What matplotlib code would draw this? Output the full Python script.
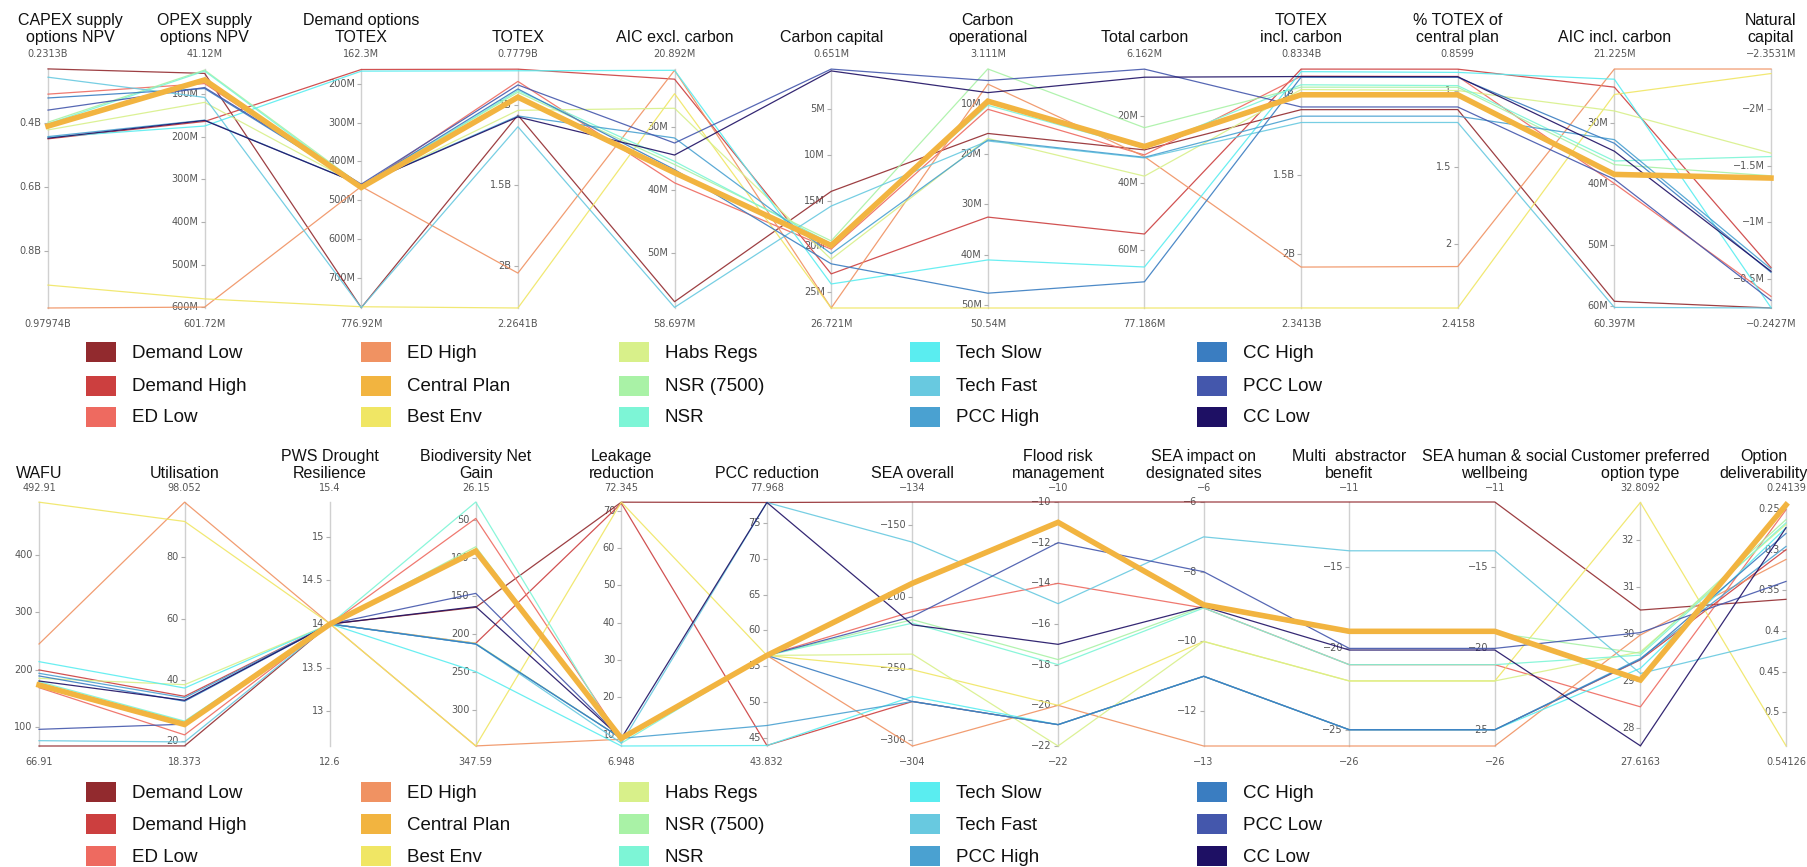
import matplotlib.pyplot as plt
from matplotlib.patches import Rectangle

plt.rcParams['font.family'] = ['Liberation Sans', 'DejaVu Sans']

W, H = 1808, 867

names = ['Demand Low', 'Demand High', 'ED Low', 'ED High', 'Central Plan', 'Best Env',
         'Habs Regs', 'NSR (7500)', 'NSR', 'Tech Slow', 'Tech Fast', 'PCC High',
         'CC High', 'PCC Low', 'CC Low']
colors = ['#922A2E', '#CC3F3F', '#EE6A60', '#F09262', '#F2B440', '#F0E664',
          '#D8F08A', '#A9F2A6', '#7DF5D6', '#5AEDF0', '#68C9E0', '#4AA1D1',
          '#3A7DC1', '#4457AC', '#1E1064']

# ---- top chart: cost / carbon metrics ----
top_titles = ['CAPEX supply\noptions NPV', 'OPEX supply\noptions NPV', 'Demand options\nTOTEX',
              'TOTEX', 'AIC excl. carbon', 'Carbon capital', 'Carbon\noperational',
              'Total carbon', 'TOTEX\nincl. carbon', '% TOTEX of\ncentral plan',
              'AIC incl. carbon', 'Natural\ncapital']
top_hi = [0.2313, 41.12, 162.3, 0.7779, 20.892, 0.651, 3.111, 6.162, 0.8334, 0.8599, 21.225, -2.3531]
top_lo = [0.97974, 601.72, 776.92, 2.2641, 58.697, 26.721, 50.54, 77.186, 2.3413, 2.4158, 60.397, -0.2427]
top_hi_lbl = ['0.2313B', '41.12M', '162.3M', '0.7779B', '20.892M', '0.651M', '3.111M',
              '6.162M', '0.8334B', '0.8599', '21.225M', '\u22122.3531M']
top_lo_lbl = ['0.97974B', '601.72M', '776.92M', '2.2641B', '58.697M', '26.721M', '50.54M',
              '77.186M', '2.3413B', '2.4158', '60.397M', '\u22120.2427M']
top_ticks = [[0.4, 0.6, 0.8], [100, 200, 300, 400, 500, 600], [200, 300, 400, 500, 600, 700],
             [1, 1.5, 2], [30, 40, 50], [5, 10, 15, 20, 25], [10, 20, 30, 40, 50],
             [20, 40, 60], [1, 1.5, 2], [1, 1.5, 2], [30, 40, 50, 60], [-2, -1.5, -1, -0.5]]
top_suffix = ['B', 'M', 'M', 'B', 'M', 'M', 'M', 'M', 'B', '', 'M', 'M']

top_demand_low = [0.231, 51.4, 776.0, 1.065, 57.7, 14.0, 15.9, 30.2, 1.09, 1.124, 59.3, -0.243]
top_demand_high = [0.450, 164.1, 163.6, 0.779, 22.5, 23.0, 32.5, 55.2, 0.834, 0.861, 24.2, -0.60]
top_ed_low = [0.310, 75.3, 464.4, 0.855, 38.9, 20.3, 11.1, 31.7, 0.879, 0.908, 40.0, -0.345]
top_ed_high = [0.9797, 599.6, 464.4, 2.047, 21.1, 26.72, 6.1, 32.2, 2.083, 2.146, 21.23, -2.353]
top_central = [0.410, 66.8, 467.0, 0.953, 37.3, 19.9, 9.5, 29.2, 0.996, 1.028, 38.5, -1.39]
top_best_env = [0.908, 580.3, 773.7, 2.264, 24.8, 26.72, 50.54, 77.19, 2.341, 2.416, 25.4, -2.313]
top_habs = [0.422, 119.3, 464.4, 1.035, 27.1, 21.4, 16.9, 38.0, 0.963, 1.0, 28.1, -1.61]
top_nsr7500 = [0.398, 43.6, 462.0, 0.922, 36.0, 19.4, 3.1, 23.6, 0.948, 0.979, 36.9, -1.41]
top_nsr = [0.403, 45.9, 466.0, 0.912, 35.5, 19.7, 10.3, 29.7, 0.933, 0.968, 36.3, -1.58]
top_tech_slow = [0.445, 174.9, 167.8, 0.789, 21.1, 24.1, 41.0, 65.0, 0.85, 0.882, 22.9, -0.246]
top_tech_fast = [0.257, 107.7, 776.0, 1.137, 58.6, 15.6, 17.4, 32.6, 1.171, 1.208, 60.3, -0.243]
top_pcc_high = [0.443, 161.0, 460.0, 1.07, 31.8, 20.8, 17.2, 32.4, 1.131, 1.167, 32.8, -0.588]
top_cc_high = [0.322, 86.9, 461.9, 0.902, 36.8, 21.9, 47.6, 69.4, 0.885, 0.914, 33.4, -0.558]
top_pcc_low = [0.360, 84.6, 458.5, 0.877, 32.6, 0.66, 5.4, 6.2, 1.073, 1.107, 39.3, -0.31]
top_cc_low = [0.448, 161.8, 460.0, 1.076, 34.5, 0.86, 7.8, 8.6, 0.881, 0.91, 34.7, -0.567]

top_series = [top_demand_low, top_demand_high, top_ed_low, top_ed_high, top_central,
              top_best_env, top_habs, top_nsr7500, top_nsr, top_tech_slow, top_tech_fast,
              top_pcc_high, top_cc_high, top_pcc_low, top_cc_low]

# ---- bottom chart: environmental / resilience metrics ----
bot_titles = ['WAFU', 'Utilisation', 'PWS Drought\nResilience', 'Biodiversity Net\nGain',
              'Leakage\nreduction', 'PCC reduction', 'SEA overall', 'Flood risk\nmanagement',
              'SEA impact on\ndesignated sites', 'Multi  abstractor\nbenefit',
              'SEA human & social\nwellbeing', 'Customer preferred\noption type',
              'Option\ndeliverability']
bot_hi = [492.91, 98.052, 15.4, 26.15, 72.345, 77.968, -134, -10, -6, -11, -11, 32.8092, 0.24139]
bot_lo = [66.91, 18.373, 12.6, 347.59, 6.948, 43.832, -304, -22, -13, -26, -26, 27.6163, 0.54126]
bot_hi_lbl = ['492.91', '98.052', '15.4', '26.15', '72.345', '77.968', '\u2212134', '\u221210',
              '\u22126', '\u221211', '\u221211', '32.8092', '0.24139']
bot_lo_lbl = ['66.91', '18.373', '12.6', '347.59', '6.948', '43.832', '\u2212304', '\u221222',
              '\u221213', '\u221226', '\u221226', '27.6163', '0.54126']
bot_ticks = [[100, 200, 300, 400], [20, 40, 60, 80], [13, 13.5, 14, 14.5, 15],
             [50, 100, 150, 200, 250, 300], [10, 20, 30, 40, 50, 60, 70],
             [45, 50, 55, 60, 65, 70, 75], [-150, -200, -250, -300],
             [-10, -12, -14, -16, -18, -20, -22], [-6, -8, -10, -12], [-15, -20, -25],
             [-15, -20, -25], [28, 29, 30, 31, 32], [0.25, 0.3, 0.35, 0.4, 0.45, 0.5]]
bot_suffix = [''] * 13

bot_demand_low = [66.9, 18.4, 14, 164.9, 72.3, 77.9, -134, -10, -6, -11, -11, 30.51, 0.361]
bot_demand_high = [199.7, 34.6, 14, 212.3, 72.0, 43.9, -273, -20.95, -11.0, -25.0, -25.0, 29.45, 0.300]
bot_ed_low = [168.8, 22.0, 14, 47.8, 9.0, 56.5, -210.3, -14.0, -9.04, -21.0, -21.0, 28.45, 0.251]
bot_ed_high = [245.0, 98.0, 14, 347.5, 8.75, 56.5, -304, -20.0, -13.0, -26.0, -26.0, 29.98, 0.312]
bot_central = [173.4, 25.4, 14, 90.8, 9.0, 56.5, -190.6, -11.0, -8.95, -18.95, -18.95, 29.02, 0.245]
bot_best_env = [492.6, 91.7, 14, 347.5, 72.3, 56.5, -250.9, -20.0, -10.0, -22.0, -22.0, 32.8, 0.541]
bot_habs = [185.1, 38.4, 14, 212.3, 9.0, 56.5, -240.0, -22.0, -10.0, -22.0, -22.0, 29.62, 0.269]
bot_nsr7500 = [176.4, 26.2, 14, 85.1, 8.6, 56.5, -216.0, -17.75, -9.0, -19.05, -19.05, 29.59, 0.263]
bot_nsr = [179.3, 26.5, 14, 26.2, 7.7, 56.5, -218.4, -18.0, -9.04, -21.0, -21.0, 29.55, 0.267]
bot_tech_slow = [214.2, 37.3, 14, 249.6, 6.95, 43.9, -269.5, -20.95, -11.0, -25.0, -25.0, 29.27, 0.273]
bot_tech_fast = [76.2, 19.7, 14, 213.2, 7.7, 77.9, -162.0, -15.0, -7.0, -14.0, -14.0, 29.16, 0.409]
bot_pcc_high = [193.8, 34.1, 14, 213.2, 9.0, 46.7, -273.0, -20.95, -11.0, -25.0, -25.0, 29.48, 0.296]
bot_cc_high = [189.2, 33.0, 14, 213.2, 9.0, 56.5, -273.0, -20.95, -11.0, -25.0, -25.0, 29.46, 0.28]
bot_pcc_low = [96.0, 25.5, 14, 146.5, 9.0, 56.5, -213.8, -12.0, -8.0, -20.0, -20.0, 30.03, 0.339]
bot_cc_low = [180.4, 33.3, 14, 164.0, 9.0, 77.9, -219.6, -17.0, -9.0, -20.1, -20.1, 27.62, 0.273]

bot_series = [bot_demand_low, bot_demand_high, bot_ed_low, bot_ed_high, bot_central,
              bot_best_env, bot_habs, bot_nsr7500, bot_nsr, bot_tech_slow, bot_tech_fast,
              bot_pcc_high, bot_cc_high, bot_pcc_low, bot_cc_low]

CENTRAL = names.index('Central Plan')


def fmt(v):
    return f'{v:g}'.replace('-', '\u2212')


def px_rect(x0, x1, ytop, ybot):
    return [x0 / W, 1 - ybot / H, (x1 - x0) / W, (ybot - ytop) / H]


def draw_chart(fig, rect, titles, hi, lo, hi_lbl, lo_lbl, ticks, suffix, series,
               title_pad, top_pad, bot_pad, title_shift):
    ax = fig.add_axes(rect)
    n = len(titles)
    ax.set_xlim(0, n - 1)
    ax.set_ylim(0, 1)
    ax.axis('off')

    def norm(v, i):
        return (v - lo[i]) / (hi[i] - lo[i])

    for i in range(n):
        ax.plot([i, i], [0, 1], color='#d0d0d0', lw=1, zorder=1, clip_on=False)
        for t in ticks[i]:
            y = norm(t, i)
            ax.plot(i, y, marker=0, ms=3, mew=0.8, color='#b0b0b0', clip_on=False, zorder=1)
            ax.annotate(fmt(t) + suffix[i], (i, y), xytext=(-4.5, 0), textcoords='offset points',
                        ha='right', va='center', fontsize=7, color='#555555',
                        family='DejaVu Sans', zorder=2)
        ax.annotate(hi_lbl[i], (i, 1), xytext=(0, top_pad), textcoords='offset points',
                    ha='center', va='center', fontsize=7, color='#555555', family='DejaVu Sans')
        ax.annotate(lo_lbl[i], (i, 0), xytext=(0, bot_pad), textcoords='offset points',
                    ha='center', va='center', fontsize=7, color='#555555', family='DejaVu Sans')
        ax.annotate(titles[i], (i, 1), xytext=(title_shift.get(i, 0), title_pad),
                    textcoords='offset points', ha='center', va='bottom', fontsize=11.5,
                    linespacing=1.2, color='#111111')

    xs = list(range(n))
    for k, vals in enumerate(series):
        if k == CENTRAL:
            continue
        ys = [norm(v, i) for i, v in enumerate(vals)]
        ax.plot(xs, ys, color=colors[k], lw=0.9, alpha=0.9, zorder=3, clip_on=False)
    ys = [norm(v, i) for i, v in enumerate(series[CENTRAL])]
    ax.plot(xs, ys, color=colors[CENTRAL], lw=4, zorder=4, clip_on=False,
            solid_joinstyle='miter')
    return ax


def draw_legend(fig, row_ys):
    patch_x = [86, 361, 619, 910, 1197]
    for k, name in enumerate(names):
        c, r = divmod(k, 3)
        x, y = patch_x[c], row_ys[r]
        fig.add_artist(Rectangle((x / W, 1 - (y + 10) / H), 30 / W, 20 / H,
                                 transform=fig.transFigure, facecolor=colors[k],
                                 edgecolor='none'))
        fig.text((x + 46) / W, 1 - (y + 1) / H, name, va='center', ha='left',
                 fontsize=13.5, color='#111111')


fig = plt.figure(figsize=(W / 100, H / 100), dpi=100)
fig.patch.set_facecolor('white')

draw_chart(fig, px_rect(48, 1771, 69, 308), top_titles, top_hi, top_lo, top_hi_lbl, top_lo_lbl,
           top_ticks, top_suffix, top_series, title_pad=17, top_pad=11, bot_pad=-11.5,
           title_shift={0: 16})
draw_legend(fig, [352, 386, 417])

draw_chart(fig, px_rect(39, 1786, 502, 746), bot_titles, bot_hi, bot_lo, bot_hi_lbl, bot_lo_lbl,
           bot_ticks, bot_suffix, bot_series, title_pad=15, top_pad=10, bot_pad=-11.5,
           title_shift={12: -16})
draw_legend(fig, [792, 824, 856])

fig.savefig('out.png', dpi=100)
